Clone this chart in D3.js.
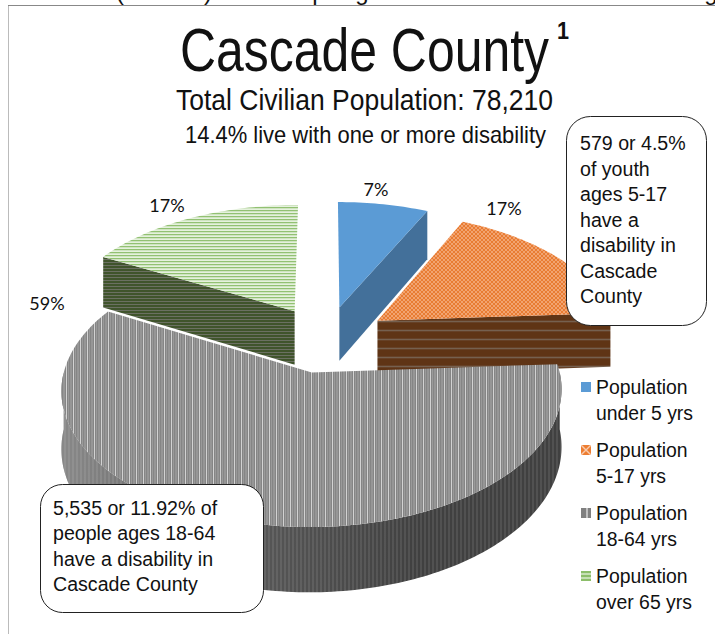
<!DOCTYPE html>
<html>
<head>
<meta charset="utf-8">
<script src="https://cdn.jsdelivr.net/npm/d3@7/dist/d3.min.js"></script>
<style>
body { margin: 0; background: #fff; }
svg { display: block; }
text { font-family: "Liberation Sans", sans-serif; fill: #111; }
</style>
</head>
<body>
<script>
// Width and height of the page
var w = 715;
var h = 634;

// Chart data
var categories = ["Population under 5 yrs", "Population 5-17 yrs", "Population 18-64 yrs", "Population over 65 yrs"];
var shares = [7, 17, 59, 17];
var shareLabels = ["7%", "17%", "59%", "17%"];
var legendLines = [["Population", "under 5 yrs"], ["Population", "5-17 yrs"], ["Population", "18-64 yrs"], ["Population", "over 65 yrs"]];
var youthNote = ["579 or 4.5%", "of youth", "ages 5-17", "have a", "disability in", "Cascade", "County"];
var adultNote = ["5,535 or 11.92% of", "people ages 18-64", "have a disability in", "Cascade County"];

// Where Excel put the percent labels
var labelX = [376, 504, 47, 167];
var labelY = [196, 215, 310, 212];

// Fake 3d view of the pie: a unit disc seen in perspective
var cx = 326, cy = 339;      // screen position of the pie centre
var rx = 240, ry = 126;      // screen size of a unit of disc
var persp = 0.125;           // how fast things grow towards the viewer
var explode = 0.264;         // slices pulled out of the centre
var depth = 55;              // thickness of the pie

var svg = d3.select("body").append("svg")
    .attr("width", w)
    .attr("height", h);

var defs = svg.append("defs");

// Repeating fills for tops and sides. Each one is a base colour plus some lines
function addPattern(id, pw, ph, base, lines) {
    var p = defs.append("pattern")
        .attr("id", id)
        .attr("patternUnits", "userSpaceOnUse")
        .attr("width", pw)
        .attr("height", ph);
    p.append("rect").attr("width", pw).attr("height", ph).attr("fill", base);
    lines.forEach(function(l) {
        p.append("path").attr("d", l.d).attr("stroke", l.c).attr("stroke-width", l.w).attr("fill", "none");
    });
}

addPattern("orangeTop", 4, 4, "#E87C33", [
    {d: "M0,0L4,4M4,0L0,4", c: "#F3A878", w: 0.9}
]);
addPattern("orangeSide", 10, 9, "#5F3415", [
    {d: "M0,6.5H10", c: "#75604F", w: 1.6}
]);
addPattern("grayTop", 7, 50, "#858585", [
    {d: "M1,0V50", c: "#A8A8A8", w: 1},
    {d: "M3.5,0V50", c: "#E6E6E6", w: 0.8},
    {d: "M5.5,0V50", c: "#9A9A9A", w: 1}
]);
addPattern("graySide", 4, 9, "#474747", [
    {d: "M1,0V9", c: "#5A5A5A", w: 1},
    {d: "M3,0V9", c: "#383838", w: 1}
]);
addPattern("greenTop", 6, 3, "#FFFFFF", [
    {d: "M0,0.7H6", c: "#8CBE6A", w: 1.3},
    {d: "M0,2H6", c: "#C5E0B4", w: 0.9}
]);
addPattern("greenSide", 6, 3, "#3E5229", [
    {d: "M0,1.5H6", c: "#6B7062", w: 1.1}
]);

// The grey wall fades out to the left, it hardly differs from the top there
var wallFade = defs.append("linearGradient")
    .attr("id", "wallFade")
    .attr("gradientUnits", "userSpaceOnUse")
    .attr("x1", 60).attr("x2", 420)
    .attr("y1", 0).attr("y2", 0);
wallFade.append("stop").attr("offset", 0).attr("stop-color", "#fff").attr("stop-opacity", 0.38);
wallFade.append("stop").attr("offset", 0.55).attr("stop-color", "#fff").attr("stop-opacity", 0.12);
wallFade.append("stop").attr("offset", 1).attr("stop-color", "#fff").attr("stop-opacity", 0);

var topFills = ["#5B9BD5", "url(#orangeTop)", "url(#grayTop)", "url(#greenTop)"];
var sideFills = ["#43709A", "url(#orangeSide)", "url(#graySide)", "url(#greenSide)"];
var legendFills = ["#5B9BD5", "url(#orangeLegend)", "url(#grayLegend)", "url(#greenLegend)"];

addPattern("orangeLegend", 10, 10, "#ED7D31", [{d: "M0,0L10,10M10,0L0,10", c: "#F8CBAD", w: 1.4}]);
addPattern("grayLegend", 10, 10, "#808080", [{d: "M6,0V10", c: "#E4E4E4", w: 1.3}]);
addPattern("greenLegend", 10, 4, "#8CBE6A", [{d: "M0,3H10", c: "#E6F1DC", w: 1.3}]);

// Percent angles, clockwise from 12 o'clock like Excel does it
var pie = d3.pie().sort(null).value(function(d) { return d; });
var arcs = pie(shares);

// Put a point of the disc on screen. x is to the right, y towards the viewer, z is down in pie heights
function project(x, y, z) {
    var s = 1 / (1 - persp * y);
    return [cx + rx * x * s, cy + ry * y * s + depth * z * s];
}

// Point on the rim of a slice, or on its tip when r is 0
function rimPoint(arc, angle, r, z) {
    var mid = (arc.startAngle + arc.endAngle) / 2;
    return project(
        explode * Math.sin(mid) + r * Math.sin(angle),
        -explode * Math.cos(mid) - r * Math.cos(angle),
        z);
}

// Angles along a rim between two values
function rimAngles(a0, a1) {
    var n = Math.max(2, Math.ceil((a1 - a0) / 0.02));
    return d3.range(n + 1).map(function(i) { return a0 + (a1 - a0) * i / n; });
}

var line = d3.line().curve(d3.curveLinear);

var pieGroup = svg.append("g").attr("id", "pie");

// Paint slices from the back to the front
[3, 0, 1, 2].forEach(function(i) {
    var arc = arcs[i];
    var g = pieGroup.append("g").attr("class", "slice");

    // Straight faces that look at the viewer
    [[arc.startAngle, -Math.PI / 2], [arc.endAngle, Math.PI / 2]].forEach(function(f) {
        if (-Math.cos(f[0] + f[1]) > 0.001) {
            g.append("path")
                .attr("d", line([
                    rimPoint(arc, f[0], 0, 0),
                    rimPoint(arc, f[0], 1, 0),
                    rimPoint(arc, f[0], 1, 1),
                    rimPoint(arc, f[0], 0, 1)
                ]) + "Z")
                .attr("fill", sideFills[i]);
        }
    });

    // Curved wall, only the part in front
    var a0 = Math.max(arc.startAngle, Math.PI / 2);
    var a1 = Math.min(arc.endAngle, Math.PI * 1.5);
    if (a1 > a0) {
        var angles = rimAngles(a0, a1);
        var wall = angles.map(function(a) { return rimPoint(arc, a, 1, 0); })
            .concat(angles.slice().reverse().map(function(a) { return rimPoint(arc, a, 1, 1); }));
        g.append("path")
            .attr("d", line(wall) + "Z")
            .attr("fill", sideFills[i]);
        g.append("path")
            .attr("d", line(wall) + "Z")
            .attr("fill", "url(#wallFade)");
    }

    // Top of the slice
    var rim = rimAngles(arc.startAngle, arc.endAngle).map(function(a) { return rimPoint(arc, a, 1, 0); });
    g.append("path")
        .attr("d", line([rimPoint(arc, arc.startAngle, 0, 0)].concat(rim)) + "Z")
        .attr("fill", topFills[i]);
});

// Percent labels
svg.selectAll("text.share")
    .data(shareLabels)
    .enter()
    .append("text")
    .attr("class", "share")
    .attr("x", function(d, i) { return labelX[i]; })
    .attr("y", function(d, i) { return labelY[i]; })
    .attr("text-anchor", "middle")
    .style("font-family", "Lato")
    .style("font-size", "18px")
    .text(function(d) { return d; });

// Frame of the chart, with the line of text above it cut off
var cutOff = svg.append("g").attr("id", "cut-off");
[["(", 120], [")", 208], ["p", 319], ["g", 362], ["g", 711]].forEach(function(c) {
    cutOff.append("text")
        .attr("x", c[1])
        .attr("y", 0)
        .attr("text-anchor", "middle")
        .style("font-size", "24px")
        .text(c[0]);
});
svg.append("path")
    .attr("d", "M8.5," + h + "V5.5")
    .attr("stroke", "#bbb")
    .attr("fill", "none");
svg.append("path")
    .attr("d", "M8,5.5H" + w)
    .attr("stroke", "#888")
    .attr("fill", "none");

// Titles
function addTitle(txt, x, y, size, len, weight) {
    svg.append("text")
        .attr("x", x)
        .attr("y", y)
        .attr("textLength", len)
        .attr("lengthAdjust", "spacingAndGlyphs")
        .style("font-size", size + "px")
        .style("font-weight", weight || "normal")
        .text(txt);
}
addTitle("Cascade County", 180, 71, 61, 369);
addTitle("1", 557, 39, 24, 12, "bold");
addTitle("Total Civilian Population: 78,210", 176, 110, 29, 377);
addTitle("14.4% live with one or more disability", 185, 143, 24, 361);

// Rounded note boxes on top of the pie
function addNote(lines, x, y, bw, bh, r, textX, firstY, step) {
    var g = svg.append("g").attr("class", "note");
    g.append("rect")
        .attr("x", x)
        .attr("y", y)
        .attr("width", bw)
        .attr("height", bh)
        .attr("rx", r)
        .attr("ry", r)
        .attr("fill", "#fff")
        .attr("stroke", "#222")
        .attr("stroke-width", 1);
    g.selectAll("text")
        .data(lines)
        .enter()
        .append("text")
        .attr("x", textX)
        .attr("y", function(d, i) { return firstY + i * step; })
        .style("font-size", "19.6px")
        .text(function(d) { return d; });
}
addNote(youthNote, 566.5, 116.5, 140, 209, 24, 580, 150, 25.5);
addNote(adultNote, 40.5, 484.5, 223, 128, 22, 53, 515, 25.4);

// Legend
var legend = svg.selectAll("g.legend")
    .data(categories)
    .enter()
    .append("g")
    .attr("class", "legend")
    .attr("transform", function(d, i) { return "translate(581," + (382 + i * 63) + ")"; });

legend.append("rect")
    .attr("width", 10)
    .attr("height", 10)
    .attr("fill", function(d, i) { return legendFills[i]; });

legend.each(function(d, i) {
    d3.select(this).selectAll("text")
        .data(legendLines[i])
        .enter()
        .append("text")
        .attr("x", 15)
        .attr("y", function(t, j) { return 12 + j * 26; })
        .style("font-size", "19.4px")
        .text(function(t) { return t; });
});
</script>
</body>
</html>
